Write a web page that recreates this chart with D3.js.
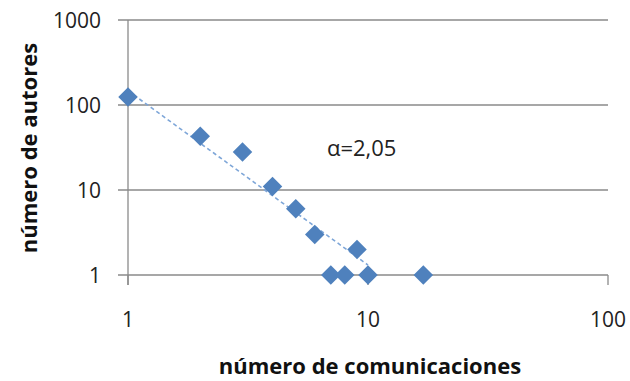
<!DOCTYPE html>
<html><head><meta charset="utf-8">
<script src="https://cdn.jsdelivr.net/npm/d3@7"></script>
<style>body{margin:0;background:#fff}svg{display:block}</style>
</head><body>
<svg id="c" width="630" height="381"></svg>
<script>
const comunicaciones = [1, 2, 3, 4, 5, 6, 7, 8, 9, 10, 17];
const autores = [124, 43, 28, 11, 6, 3, 1, 1, 2, 1, 1];
const xTicks = [1, 10, 100];
const yTicks = [1, 10, 100, 1000];
const trendCoef = 147;
const trendExp = 2.05;
const trendRange = [1, 10];
const alphaLabel = "α=2,05";
const xTitle = "número de comunicaciones";
const yTitle = "número de autores";

const svg = d3.select("#c");
const x = d3.scaleLog().domain([1, 100]).range([128, 608]);
const y = d3.scaleLog().domain([1, 1000]).range([275, 20]);
const grid = "#8a8a8a";
const font = "'Open Sans', sans-serif";

// horizontal gridlines + left ticks
svg.append("g").selectAll("line").data(yTicks).join("line")
  .attr("x1", 118).attr("x2", 608)
  .attr("y1", d => y(d)).attr("y2", d => y(d))
  .attr("stroke", grid).attr("stroke-width", 1.3);

// vertical axis
svg.append("line").attr("x1", x(1)).attr("x2", x(1))
  .attr("y1", y(1000)).attr("y2", y(1) + 10)
  .attr("stroke", grid).attr("stroke-width", 1.3);

// x ticks
svg.append("g").selectAll("line").data(xTicks).join("line")
  .attr("x1", d => x(d)).attr("x2", d => x(d))
  .attr("y1", y(1)).attr("y2", y(1) + 10)
  .attr("stroke", grid).attr("stroke-width", 1.3);

// y tick labels
svg.append("g").selectAll("text").data(yTicks).join("text")
  .attr("x", 101).attr("y", d => y(d)).attr("dy", "0.36em")
  .attr("text-anchor", "end").attr("font-family", font).attr("font-size", 21)
  .attr("fill", "#222").text(d => d);

// x tick labels
svg.append("g").selectAll("text").data(xTicks).join("text")
  .attr("x", d => x(d)).attr("y", 327)
  .attr("text-anchor", "middle").attr("font-family", font).attr("font-size", 21)
  .attr("fill", "#222").text(d => d);

// trendline
const tr = d3.range(0, 51).map(i => {
  const lx = Math.log10(trendRange[0]) + i / 50 * (Math.log10(trendRange[1]) - Math.log10(trendRange[0]));
  const xv = Math.pow(10, lx);
  return [xv, trendCoef * Math.pow(xv, -trendExp)];
});
svg.append("path").datum(tr)
  .attr("d", d3.line().x(d => x(d[0])).y(d => y(d[1])))
  .attr("fill", "none").attr("stroke", "#7ea6d8").attr("stroke-width", 1.6)
  .attr("stroke-dasharray", "4,3");

// markers
const sym = d3.symbol().type(d3.symbolSquare).size(190);
svg.append("g").selectAll("path").data(comunicaciones.map((c, i) => [c, autores[i]])).join("path")
  .attr("d", sym)
  .attr("transform", d => `translate(${x(d[0])},${y(d[1])}) rotate(45)`)
  .attr("fill", "#4f81bd");

// alpha label
svg.append("text").attr("x", 327).attr("y", 156)
  .attr("font-family", font).attr("font-size", 22).attr("fill", "#222").text(alphaLabel);

// axis titles
svg.append("text").attr("x", 370).attr("y", 374).attr("text-anchor", "middle")
  .attr("font-family", font).attr("font-size", 22).attr("font-weight", "bold")
  .attr("fill", "#111").text(xTitle);
svg.append("text").attr("transform", "translate(37,148) rotate(-90)").attr("text-anchor", "middle")
  .attr("font-family", font).attr("font-size", 22).attr("font-weight", "bold")
  .attr("fill", "#111").text(yTitle);
</script>
</body></html>
